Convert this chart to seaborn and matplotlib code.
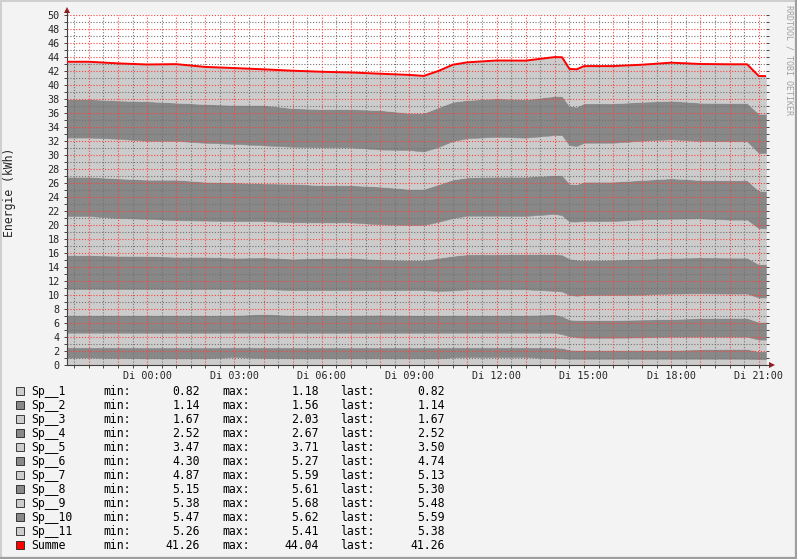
import numpy as np
import matplotlib
matplotlib.use('Agg')
import matplotlib.pyplot as plt
import seaborn as sns
from matplotlib.ticker import MultipleLocator, FuncFormatter
from matplotlib.patches import Rectangle, Polygon
from matplotlib.lines import Line2D

W, H = 797, 559

# hours relative to Di 00:00
hours = [-2.75, -2, -1, 0, 1, 2, 3, 4, 5, 6, 7, 8, 9, 9.5, 10, 10.5, 11, 12, 13,
         14, 14.25, 14.5, 14.75, 15, 16, 17, 18, 19, 20, 20.6, 21, 21.25]

sp1 = [1.05, 1.08, 1.00, 0.95, 0.95, 0.95, 1.14, 1.00, 0.95, 0.95, 0.95, 0.95, 0.95, 0.95, 0.95, 1.10,
       1.14, 1.14, 1.14, 0.95, 0.95, 0.90, 0.90, 0.90, 0.90, 0.90, 0.90, 0.90, 0.90, 0.90, 0.82, 0.82]
sp2 = [1.47, 1.44, 1.52, 1.56, 1.56, 1.56, 1.38, 1.52, 1.56, 1.56, 1.56, 1.56, 1.56, 1.56, 1.56, 1.42,
       1.38, 1.38, 1.38, 1.56, 1.50, 1.30, 1.24, 1.24, 1.24, 1.24, 1.24, 1.35, 1.39, 1.39, 1.14, 1.14]
sp3 = [2.10, 2.10, 2.10, 2.10, 2.10, 2.10, 2.10, 2.10, 2.10, 2.10, 2.10, 2.10, 2.10, 2.10, 2.10, 2.10,
       2.10, 2.10, 2.10, 2.10, 1.95, 1.90, 1.81, 1.76, 1.76, 1.81, 1.91, 1.80, 1.76, 1.76, 1.67, 1.67]
sp4 = [2.52, 2.52, 2.52, 2.52, 2.52, 2.52, 2.52, 2.67, 2.52, 2.52, 2.52, 2.58, 2.52, 2.52, 2.52, 2.52,
       2.52, 2.52, 2.52, 2.63, 2.60, 2.40, 2.48, 2.53, 2.53, 2.55, 2.52, 2.65, 2.67, 2.67, 2.52, 2.52]
sp5 = [3.71, 3.71, 3.71, 3.71, 3.71, 3.71, 3.71, 3.57, 3.57, 3.57, 3.57, 3.51, 3.57, 3.57, 3.47, 3.51,
       3.67, 3.67, 3.67, 3.35, 3.50, 3.50, 3.47, 3.57, 3.57, 3.55, 3.63, 3.54, 3.48, 3.48, 3.50, 3.50]
sp6 = [4.85, 4.85, 4.76, 4.74, 4.62, 4.62, 4.47, 4.52, 4.49, 4.59, 4.62, 4.39, 4.30, 4.30, 4.70, 4.95,
       5.00, 5.00, 5.04, 5.25, 5.27, 5.20, 5.15, 5.00, 5.05, 5.09, 5.10, 5.14, 5.14, 5.14, 4.75, 4.74]
sp7 = [5.58, 5.58, 5.38, 5.30, 5.23, 5.17, 5.24, 5.19, 5.20, 5.08, 5.05, 5.00, 5.00, 5.00, 5.15, 5.40,
       5.52, 5.52, 5.45, 5.75, 5.62, 5.30, 5.45, 5.57, 5.52, 5.67, 5.60, 5.57, 5.43, 5.43, 5.15, 5.13]
sp8 = [5.61, 5.61, 5.67, 5.60, 5.79, 5.54, 5.53, 5.38, 5.50, 5.32, 5.32, 5.40, 5.15, 5.15, 5.35, 5.50,
       5.47, 5.57, 5.60, 5.54, 5.71, 5.40, 5.31, 5.62, 5.62, 5.62, 5.77, 5.48, 5.62, 5.62, 5.35, 5.30]
sp9 = [5.60, 5.60, 5.66, 5.55, 5.55, 5.57, 5.50, 5.43, 5.29, 5.40, 5.40, 5.30, 5.56, 5.36, 5.35, 5.50,
       5.60, 5.70, 5.58, 5.72, 5.72, 5.50, 5.48, 5.57, 5.57, 5.62, 5.57, 5.57, 5.57, 5.57, 5.40, 5.48]
sp10 = [5.50, 5.50, 5.47, 5.65, 5.45, 5.54, 5.56, 5.76, 5.51, 5.47, 5.47, 5.63, 5.30, 5.50, 5.65, 5.60,
        5.46, 5.50, 5.47, 5.57, 5.57, 5.60, 5.61, 5.62, 5.62, 5.55, 5.52, 5.47, 5.47, 5.47, 5.60, 5.59]
sp11 = [5.33, 5.33, 5.30, 5.25, 5.50, 5.30, 5.27, 5.10, 5.35, 5.33, 5.23, 5.19, 5.43, 5.29, 5.20, 5.30,
        5.38, 5.40, 5.53, 5.57, 5.57, 5.30, 5.34, 5.32, 5.32, 5.30, 5.43, 5.53, 5.53, 5.53, 5.39, 5.38]

layers = [sp1, sp2, sp3, sp4, sp5, sp6, sp7, sp8, sp9, sp10, sp11]

names = ['Sp__1', 'Sp__2', 'Sp__3', 'Sp__4', 'Sp__5', 'Sp__6', 'Sp__7', 'Sp__8',
         'Sp__9', 'Sp__10', 'Sp__11', 'Summe']
mins = [0.82, 1.14, 1.67, 2.52, 3.47, 4.30, 4.87, 5.15, 5.38, 5.47, 5.26, 41.26]
maxs = [1.18, 1.56, 2.03, 2.67, 3.71, 5.27, 5.59, 5.61, 5.68, 5.62, 5.41, 44.04]
lasts = [0.82, 1.14, 1.67, 2.52, 3.50, 4.74, 5.13, 5.30, 5.48, 5.59, 5.38, 41.26]

LIGHT, DARK, RED = '#cccccc', '#888888', '#ff0000'
colors = [LIGHT if i % 2 == 0 else DARK for i in range(len(layers))]

sns.set_theme(style='white')
plt.rcParams['font.family'] = ['DejaVu Sans Mono', 'DejaVu Sans']


def px(x, y):
    return x / W, 1 - y / H


fig = plt.figure(figsize=(W / 100, H / 100), dpi=100, facecolor='#f3f3f3')
ax = fig.add_axes([67 / W, 1 - 365 / H, 699 / W, 350 / H])
ax.set_facecolor('white')

polys = ax.stackplot(hours, layers, colors=colors)
for coll, c in zip(polys, colors):
    coll.set_edgecolor(c)
    coll.set_linewidth(0.4)

summe = np.sum(layers, axis=0)
sns.lineplot(x=hours, y=summe, ax=ax, color=RED, linewidth=1.4, zorder=4)

ax.set_xlim(hours[0], hours[-1])
ax.set_ylim(0, 50)
ax.xaxis.set_major_locator(MultipleLocator(1))
ax.xaxis.set_minor_locator(MultipleLocator(0.5))
ax.yaxis.set_major_locator(MultipleLocator(2))
ax.yaxis.set_minor_locator(MultipleLocator(1))
ax.xaxis.set_major_formatter(FuncFormatter(
    lambda v, p: f'Di {int(round(v)):02d}:00' if v >= 0 and round(v) % 3 == 0 else ''))
ax.yaxis.set_major_formatter(FuncFormatter(lambda v, p: f'{v:.0f}'))

ax.set_axisbelow(False)
ax.grid(which='major', color=(1, 0.25, 0.25, 0.38), lw=0.8, ls=(0, (1, 1.6)))
ax.grid(which='minor', color=(0.45, 0.45, 0.45, 0.2), lw=0.8, ls=(0, (1, 1.6)))
ax.tick_params(which='both', direction='out', length=2, width=0.7, color='#444444',
               left=True, right=True, bottom=True, top=False, labelsize=7.3, pad=2.5)
ax.tick_params(axis='y', pad=3.2)
for s in ['top', 'right']:
    ax.spines[s].set_visible(False)
for s in ['left', 'bottom']:
    ax.spines[s].set_color('#404040')
    ax.spines[s].set_linewidth(0.8)
ax.set_xlabel('')
ax.set_ylabel('')

# axis extensions and arrows
ARROW = '#a01818'
fig.add_artist(Line2D(*zip(px(67, 15), px(67, 10)), color='#404040', lw=0.8))
fig.add_artist(Line2D(*zip(px(766, 365), px(771, 365)), color='#404040', lw=0.8))
fig.add_artist(Polygon([px(67, 7), px(64, 13), px(70, 13)], closed=True,
                       transform=fig.transFigure, color=ARROW, lw=0))
fig.add_artist(Polygon([px(775, 365), px(769, 362), px(769, 368)], closed=True,
                       transform=fig.transFigure, color=ARROW, lw=0))

# frame shading
fig.add_artist(Line2D([0, 1], [1 - 0.5 / H] * 2, color='#cfcfcf', lw=1.4))
fig.add_artist(Line2D([0.5 / W] * 2, [0, 1], color='#cfcfcf', lw=1.4))
fig.add_artist(Line2D([0, 1], [1.0 / H] * 2, color='#9e9e9e', lw=1.6))
fig.add_artist(Line2D([1 - 1.0 / W] * 2, [0, 1], color='#9e9e9e', lw=1.6))

fig.text(*px(10, 192), 'Energie (kWh)', rotation=90, ha='center', va='center', fontsize=8.3)
fig.text(*px(788.5, 60), 'RRDTOOL / TOBI OETIKER', rotation=270, ha='center', va='center',
         fontsize=6, color='#a0a0a0')

# legend with stats
box_colors = colors + [RED]
for i, name in enumerate(names):
    yb = 395 + 14 * i
    fig.add_artist(Rectangle(px(16, yb), 8 / W, 8 / H, transform=fig.transFigure,
                             facecolor=box_colors[i], edgecolor='#202020', lw=0.6))
    kw = dict(va='baseline', fontsize=8.3, color='black')
    fig.text(*px(31, yb), name, ha='left', **kw)
    fig.text(*px(103, yb), 'min:', ha='left', **kw)
    fig.text(*px(200, yb), f'{mins[i]:.2f}', ha='right', **kw)
    fig.text(*px(222, yb), 'max:', ha='left', **kw)
    fig.text(*px(319, yb), f'{maxs[i]:.2f}', ha='right', **kw)
    fig.text(*px(340, yb), 'last:', ha='left', **kw)
    fig.text(*px(445, yb), f'{lasts[i]:.2f}', ha='right', **kw)

fig.savefig('out.png', dpi=100, facecolor=fig.get_facecolor())
